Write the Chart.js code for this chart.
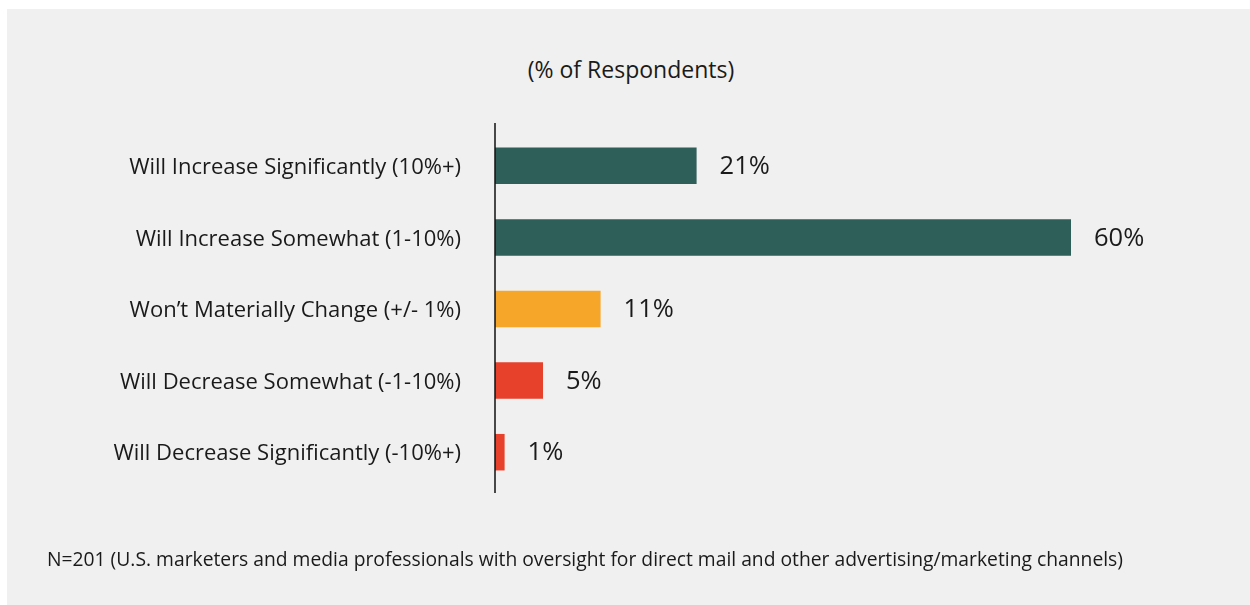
<!DOCTYPE html>
<html>
<head>
<meta charset="utf-8">
<script src="https://cdn.jsdelivr.net/npm/chart.js@4"></script>
<style>
  body { margin: 0; background: #ffffff; font-family: "Open Sans", sans-serif; }
  #panel { position: absolute; left: 7px; top: 9px; width: 1243px; height: 596px; background: #f0f0f0; }
  #wrap { position: absolute; left: 0; top: 0; width: 1250px; height: 605px; }
  #heading { position: absolute; left: 12px; width: 1238px; top: 54px; line-height: 30px;
             text-align: center; font-size: 23px; color: #1a1a1a; }
  #note { position: absolute; left: 47px; top: 545px; line-height: 28px;
          font-size: 19.3px; color: #1a1a1a; white-space: nowrap; }
</style>
</head>
<body>
<div id="panel"></div>
<div id="heading">(% of Respondents)</div>
<div id="wrap"><canvas id="spendChart"></canvas></div>
<div id="note">N=201 (U.S. marketers and media professionals with oversight for direct mail and other advertising/marketing channels)</div>
<script>
const categories = [
  "Will Increase Significantly (10%+)",
  "Will Increase Somewhat (1-10%)",
  "Won\u2019t Materially Change (+/- 1%)",
  "Will Decrease Somewhat (-1-10%)",
  "Will Decrease Significantly (-10%+)"
];
const shares = [21, 60, 11, 5, 1];
const barColors = ["#2e5f58", "#2e5f58", "#f6a628", "#e8412b", "#e8412b"];

document.addEventListener("DOMContentLoaded", function () {
  const ctx = document.getElementById("spendChart");
  if (typeof Chart === "undefined") return;

  // vertical baseline, a little longer than the plot area
  const baseline = {
    id: "baseline",
    afterDatasetsDraw(chart) {
      const { ctx, chartArea } = chart;
      const x = chart.scales.x.getPixelForValue(0);
      ctx.save();
      ctx.strokeStyle = "#111111";
      ctx.lineWidth = 1.5;
      ctx.beginPath();
      ctx.moveTo(x, chartArea.top - 7);
      ctx.lineTo(x, chartArea.bottom + 5);
      ctx.stroke();
      ctx.restore();
    }
  };

  // percentage next to each bar
  const valueLabels = {
    id: "valueLabels",
    afterDatasetsDraw(chart) {
      const { ctx } = chart;
      const meta = chart.getDatasetMeta(0);
      ctx.save();
      ctx.font = "25.5px 'Open Sans'";
      ctx.fillStyle = "#1a1a1a";
      ctx.textBaseline = "middle";
      ctx.textAlign = "left";
      meta.data.forEach((bar, i) => {
        ctx.fillText(shares[i] + "%", bar.x + 23, bar.y + 1);
      });
      ctx.restore();
    }
  };

  new Chart(ctx, {
    type: "bar",
    data: {
      labels: categories,
      datasets: [
        {
          data: shares,
          backgroundColor: barColors,
          barPercentage: 0.51,
          categoryPercentage: 1
        }
      ]
    },
    options: {
      indexAxis: "y",
      responsive: true,
      maintainAspectRatio: false,
      animation: false,
      layout: { padding: { top: 130, bottom: 117, left: 0, right: 179 } },
      plugins: {
        legend: { display: false },
        tooltip: { enabled: false }
      },
      scales: {
        x: {
          display: false,
          min: 0,
          max: 60
        },
        y: {
          grid: { display: false, drawTicks: false },
          border: { display: false },
          ticks: {
            color: "#1a1a1a",
            padding: 34,
            labelOffset: 2,
            font: { family: "'Open Sans'", size: 22 }
          },
          afterFit(scale) {
            scale.width = 495;
          }
        }
      }
    },
    plugins: [baseline, valueLabels]
  });
});
</script>
</body>
</html>
